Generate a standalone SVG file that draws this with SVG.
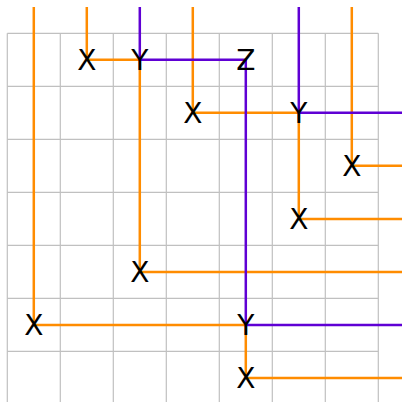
<svg xmlns="http://www.w3.org/2000/svg" width="402" height="402" viewBox="0 0 402 402">
<style>
.grid{stroke:#c0c0c0;stroke-width:1.2;fill:none}
.o{stroke:#ff8c00;stroke-width:2.5;fill:none}
.p{stroke:#5f00d4;stroke-width:2.5;fill:none}
text{font-family:"DejaVu Sans",sans-serif;font-size:28px;fill:#000;text-anchor:middle}
</style>
<rect width="402" height="402" fill="#fff"/>
<g id="grid" class="grid">
<path d="M7.3 33.3V402M60.3 33.3V402M113.3 33.3V402M166.3 33.3V402M219.3 33.3V402M272.3 33.3V402M325.3 33.3V402M378.3 33.3V402"/>
<path d="M7.3 33.3H378.3M7.3 86.3H378.3M7.3 139.3H378.3M7.3 192.3H378.3M7.3 245.3H378.3M7.3 298.3H378.3M7.3 351.3H378.3"/>
</g>
<g id="connectors">
<g class="o">
<path d="M33.8 7V325H245.8"/>
<path d="M86.8 7V59.8H139.8"/>
<path d="M139.8 59.8V272H402"/>
<path d="M192.8 7V112.8H298.8"/>
<path d="M298.8 112.8V219H402"/>
<path d="M351.8 7V165.8H402"/>
<path d="M245.8 325V378H402"/>
</g>
<g class="p">
<path d="M139.8 7V59.8H245.8V325H402"/>
<path d="M298.8 7V112.8H402"/>
</g>
</g>
<g id="n1"><text x="86.8" y="70">X</text></g>
<g id="n2"><text x="139.8" y="70">Y</text></g>
<g id="n3"><text x="245.8" y="70">Z</text></g>
<g id="n4"><text x="192.8" y="123">X</text></g>
<g id="n5"><text x="298.8" y="123">Y</text></g>
<g id="n6"><text x="351.8" y="176">X</text></g>
<g id="n7"><text x="298.8" y="229">X</text></g>
<g id="n8"><text x="139.8" y="282">X</text></g>
<g id="n9"><text x="33.8" y="335">X</text></g>
<g id="n10"><text x="245.8" y="335">Y</text></g>
<g id="n11"><text x="245.8" y="388">X</text></g>
</svg>
